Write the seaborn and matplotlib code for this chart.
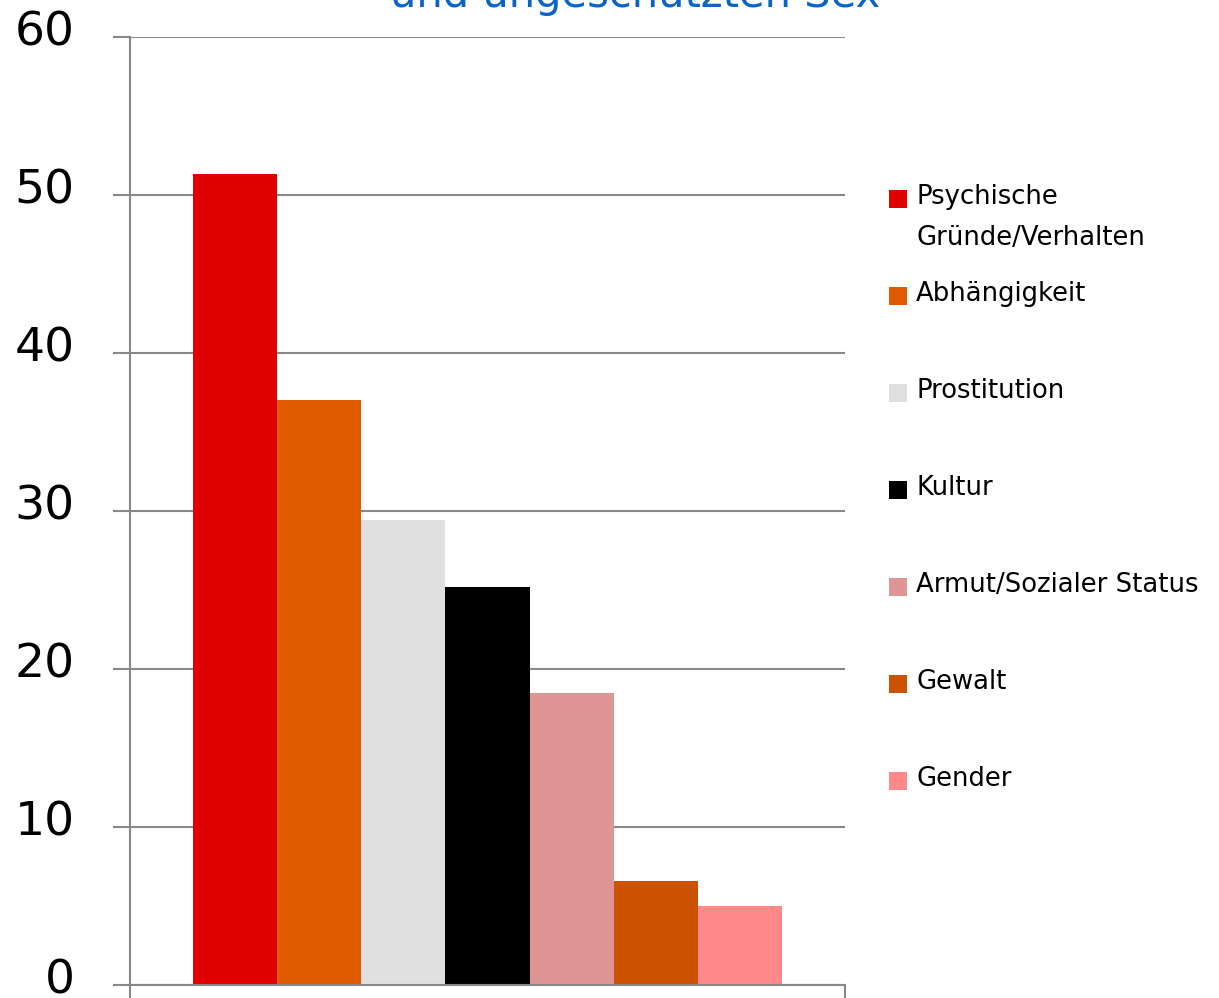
import matplotlib
matplotlib.use("Agg")
import matplotlib.pyplot as plt
from matplotlib.patches import Rectangle
from matplotlib.transforms import ScaledTranslation
import seaborn as sns
import pandas as pd

# Data
categories = ["Psychische\nGründe/Verhalten", "Abhängigkeit", "Prostitution", "Kultur",
              "Armut/Sozialer Status", "Gewalt", "Gender"]
values = [51.3, 37.0, 29.4, 25.2, 18.5, 6.6, 5.0]
colors = ["#e00000", "#e05a00", "#e0e0e0", "#000000", "#e09595", "#cc5200", "#ff8888"]
y_ticks = [0, 10, 20, 30, 40, 50, 60]
title_line = "und ungeschützten Sex"

df = pd.DataFrame({"group": ["alle"] * len(categories), "Grund": categories, "Wert": values})

sns.set_theme(style="white")
plt.rcParams["font.family"] = ["DejaVu Sans"]

W, H = 1219, 998
fig = plt.figure(figsize=(W / 100, H / 100), dpi=100)
ax = fig.add_axes([130 / W, 1 - 985 / H, (845 - 130) / W, (985 - 37) / H])

sns.barplot(data=df, x="group", y="Wert", hue="Grund", hue_order=categories,
            palette=dict(zip(categories, colors)), width=0.8, gap=0,
            saturation=1, legend=False, ax=ax, linewidth=0)

half = 0.4 * 715 / 589
ax.set_xlim(-half, half)
ax.set_ylim(0, 60)
ax.set_yticks(y_ticks)
ax.set_yticklabels([str(t) for t in y_ticks], fontsize=34, color="black")
ax.set_xticks([-half, half])
ax.set_xticklabels(["", ""])
ax.set_xlabel("")
ax.set_ylabel("")

grid_c = "#888888"
ax.set_axisbelow(True)
ax.yaxis.grid(True, color=grid_c, linewidth=1.5)
ax.xaxis.grid(False)
for side in ["top", "right"]:
    ax.spines[side].set_visible(False)
ax.spines["left"].set_color(grid_c)
ax.spines["left"].set_linewidth(1.5)
ax.spines["bottom"].set_color(grid_c)
ax.spines["bottom"].set_linewidth(1.5)
ax.tick_params(axis="y", length=12, width=1.5, color=grid_c, pad=28, left=True)
ax.tick_params(axis="x", length=12, width=1.5, color=grid_c, bottom=True)

# Value labels sit slightly above their gridlines
lift = ScaledTranslation(0, 9 / 100, fig.dpi_scale_trans)
for lab in ax.get_yticklabels():
    lab.set_transform(lab.get_transform() + lift)

# Legend on the right
sq = 18
y0 = 199
step = 97
for i, (lab, col) in enumerate(zip(categories, colors)):
    yc = y0 + i * step
    fig.patches.append(Rectangle((889 / W, 1 - (yc + sq / 2) / H), sq / W, sq / H,
                                 transform=fig.transFigure, facecolor=col, edgecolor="none"))
    lines = lab.split("\n")
    for j, line in enumerate(lines):
        fig.text(916 / W, 1 - (yc - 2 + j * 41) / H, line, fontsize=18.6,
                 va="center", ha="left", color="black")

# Title (second line, upper part cut by the figure edge)
fig.text(635 / W, 1 - 7 / H, title_line, fontsize=30, color="#0a64c8",
         ha="center", va="baseline", fontweight="medium")

fig.savefig("out.png", dpi=100)
